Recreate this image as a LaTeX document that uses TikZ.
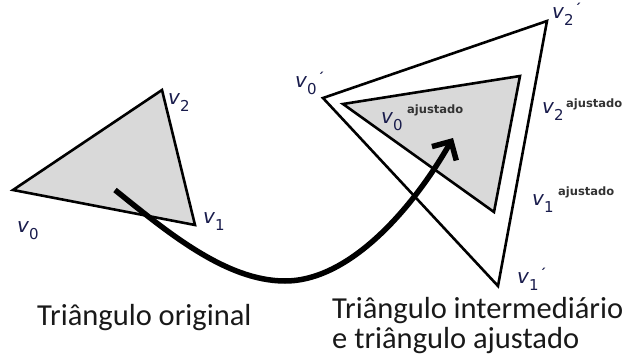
\documentclass[tikz,border=0pt]{standalone}
\usepackage{fontspec}
\setmainfont{Carlito}
\newfontfamily\labfont{DejaVu Sans}
\usetikzlibrary{arrows.meta}
\definecolor{labcol}{rgb}{0.10,0.11,0.30}
\definecolor{trigray}{gray}{0.85}
\newcommand{\vlab}[1]{{\fontsize{20}{20}\selectfont\itshape v}\raisebox{-7pt}{\fontsize{15}{15}\selectfont #1}}
\newcommand{\vprime}[1]{\vlab{#1}\raisebox{5pt}{\fontsize{13}{13}\selectfont\bfseries\kern1pt ´}}
\tikzset{
  tri/.style={draw=black, line width=2.6pt, line join=miter},
  lab/.style={font=\labfont, text=labcol, inner sep=0pt, anchor=base west},
  suplab/.style={font=\labfont\bfseries\fontsize{11.5}{11.5}\selectfont, text=black!80, inner sep=0pt, anchor=base west},
  caption/.style={font=\fontsize{30.5}{30.5}\selectfont, text=black!90, inner sep=0pt, anchor=base west},
  bigarrow/.style={line width=5.5pt, -{Straight Barb[length=14pt,width=28pt]}}
}
\begin{document}
\begin{tikzpicture}[x=1pt,y=-1pt]
\useasboundingbox (0,0) rectangle (625,362);
% original triangle
\coordinate (o0) at (13,190);
\coordinate (o1) at (195,225);
\coordinate (o2) at (162,90);
% intermediate triangle
\coordinate (i0) at (323,98);
\coordinate (i1) at (498,286);
\coordinate (i2) at (547,21);
% adjusted triangle
\coordinate (a0) at (343,104);
\coordinate (a1) at (494,212);
\coordinate (a2) at (520,76);
\filldraw[tri, fill=trigray] (o0) -- (o1) -- (o2) -- cycle;
\filldraw[tri, fill=white] (i0) -- (i1) -- (i2) -- cycle;
\filldraw[tri, fill=trigray] (a0) -- (a1) -- (a2) -- cycle;
% labels
\node[lab] (l-o0) at (17,232) {\vlab{0}};
\node[lab] (l-o2) at (168,104) {\vlab{2}};
\node[lab] (l-o1) at (203,223) {\vlab{1}};
\node[lab] (l-i0) at (295,87) {\vprime{0}};
\node[lab] (l-i2) at (552,18) {\vprime{2}};
\node[lab] (l-i1) at (517,283) {\vprime{1}};
\node[lab] (l-a0) at (381,123) {\vlab{0}};
\node[lab] (l-a2) at (542,113) {\vlab{2}};
\node[lab] (l-a1) at (532,205) {\vlab{1}};
\node[suplab] (s-a0) at (407,113) {ajustado};
\node[suplab] (s-a2) at (566,107) {ajustado};
\node[suplab] (s-a1) at (558,195) {ajustado};
% arrow
\coordinate (as) at (115,190);
\coordinate (am) at (285,281);
\coordinate (ae) at (453,138);
\draw[bigarrow] (as) .. controls (165,230) and (225,281) .. (am) .. controls (350,281) and (413,208) .. (ae);
% captions
\node[caption] (c1) at (37,325) {Triângulo original};
\node[caption] (c2) at (332,318) {Triângulo intermediário};
\node[caption] (c3) at (332,348) {e triângulo ajustado};
\end{tikzpicture}
\end{document}
